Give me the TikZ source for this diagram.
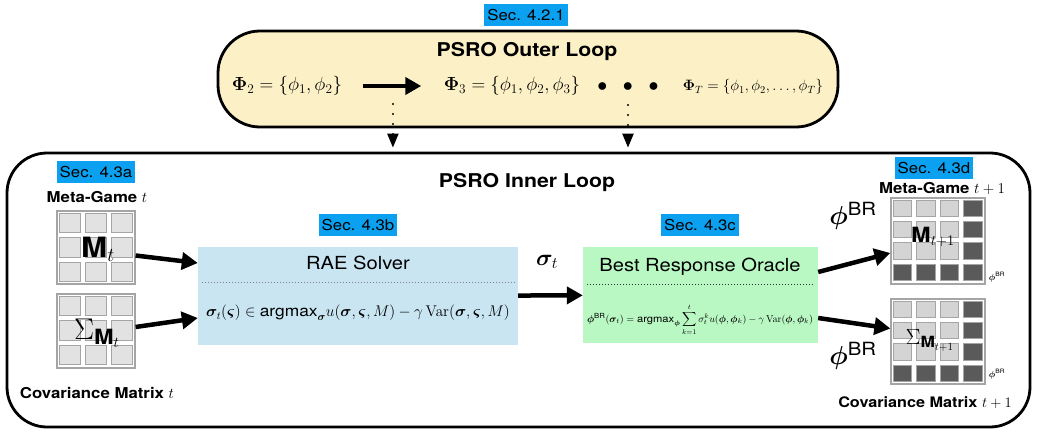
\RequirePackage{fix-cm}
\documentclass[tikz,border=0pt]{standalone}
\usepackage{amsmath}
\usepackage{bm}
\usepackage[no-math]{fontspec}
\setsansfont{TeX Gyre Heros}[FakeStretch=1.12]
\usetikzlibrary{positioning,arrows.meta,calc}

\definecolor{secblue}{HTML}{0BA0F0}
\definecolor{outeryellow}{HTML}{FCF1C6}
\definecolor{raeblue}{HTML}{C9E5F1}
\definecolor{brgreen}{HTML}{B9F8C3}
\definecolor{celllight}{HTML}{E2E2E2}
\definecolor{cellgray}{HTML}{D4D4D4}
\definecolor{celldark}{HTML}{5A5A5A}
\definecolor{cellline}{HTML}{A5A5A5}

\newcommand{\fsz}[1]{\fontsize{#1}{#1}\selectfont}

\begin{document}
\begin{tikzpicture}[x=1pt,y=-1pt,
    loopbox/.style={draw,line width=2.8pt,rounded corners=42pt},
    secbox/.style={fill=secblue,inner xsep=3pt,inner ysep=0pt,minimum height=22pt,font=\sffamily\fsz{15}},
    title/.style={font=\sffamily\bfseries\fsz{19}},
    caption/.style={font=\sffamily\bfseries\fsz{15}},
    mat/.style={draw=cellline,line width=1.2pt,fill=white,inner sep=0pt},
    cell/.style={draw=cellline,line width=0.8pt},
    bigarrow/.style={line width=4.5pt,-{Triangle[length=16pt,width=17pt]}},
    dotarrow/.style={line width=2.2pt,dash pattern=on 0pt off 10pt,line cap=round,shorten >=4pt,-{Triangle[length=14pt,width=11pt]}},
  ]
  \useasboundingbox (0,0) rectangle (1037,434);

  % outer loop
  \node[secbox] (secO) at (526,15) {Sec. 4.2.1};
  \node[loopbox,fill=outeryellow,minimum width=620pt,minimum height=96pt] (outer) at (528,79) {};
  \node[title] (outertitle) at (527,52) {PSRO Outer Loop};
  \node[font=\fsz{19}] (phi2) at (287,86) {$\mathbf{\Phi}_2=\{\phi_1,\phi_2\}$};
  \node[font=\fsz{19}] (phi3) at (512,86) {$\mathbf{\Phi}_3=\{\phi_1,\phi_2,\phi_3\}$};
  \node[font=\fsz{20}] (dots) at (628,87) {$\bullet\;\;\bullet\;\;\bullet$};
  \node[font=\fsz{15}] (phiT) at (753,87) {$\mathbf{\Phi}_T=\{\phi_1,\phi_2,\ldots,\phi_T\}$};
  \draw[bigarrow,shorten <=17pt,shorten >=19pt] (phi2) -- (phi3);
  \coordinate (split) at ($(phi2.east)!0.5!(phi3.west)$);

  % inner loop
  \node[loopbox,rounded corners=40pt,minimum width=1023pt,minimum height=274pt] (inner) at (518.5,290) {};
  \node[title] (innertitle) at (527,183) {PSRO Inner Loop};
  \draw[dotarrow] ([yshift=-18pt]split) -- (split |- inner.north);
  \draw[dotarrow] ([yshift=-18pt]dots.center) -- (dots.center |- inner.north);

  % meta-game t
  \node[secbox] (secA) at (96,172) {Sec. 4.3a};
  \node[caption] (mgA) at (97,197) {Meta-Game $t$};
  \node[mat,minimum width=78pt,minimum height=73pt] (Mt) at (96,247.5) {};
  \node[mat,minimum width=78pt,minimum height=74pt] (St) at (96,331) {};
  \foreach \m in {Mt,St}
    \foreach \i in {0,1,2}
      \foreach \j in {0,1,2}
        \filldraw[cell,fill=celllight] ($(\m.north west)+(\i*26+2.5,\j*24.5+2.5)$) rectangle +(21,19.5);
  \node[font=\fsz{28}] (Mtlab) at (98,249) {$\textsf{\bfseries M}_t$};
  \node[font=\fsz{30}] (Stlab) at (97,333) {$\Sigma_{\textsf{\bfseries M}_t}$};
  \node[caption] (cmA) at (97,393) {Covariance Matrix $t$};

  % RAE solver
  \node[secbox] (secB) at (358,225) {Sec. 4.3b};
  \node[fill=raeblue,minimum width=320pt,minimum height=98pt] (rae) at (358,296) {};
  \node[font=\sffamily\fsz{18}] (raetitle) at (358,263) {RAE Solver};
  \draw[gray,dotted,line width=1pt] ($(rae.west)+(4,-14)$) -- ($(rae.east)+(-4,-14)$);
  \node[font=\fsz{15.5}] (raeform) at (358,313)
    {$\bm\sigma_t(\bm\varsigma)\in\textsf{argmax}_{\bm\sigma}u(\bm\sigma,\bm\varsigma,M)-\gamma\,\mathrm{Var}(\bm\sigma,\bm\varsigma,M)$};

  % best response oracle
  \node[secbox] (secC) at (700,225) {Sec. 4.3c};
  \node[fill=brgreen,minimum width=235pt,minimum height=96pt] (br) at (700.5,295) {};
  \node[font=\sffamily\fsz{18}] (brtitle) at (700,267) {Best Response Oracle};
  \draw[black!80,dotted,line width=1pt] ($(br.west)+(4,-11)$) -- ($(br.east)+(-4,-11)$);
  \node[font=\fsz{10}] (brform) at (700,320)
    {$\bm\phi^{\textsf{BR}}(\bm\sigma_t)=\textsf{argmax}_{\bm\phi}\displaystyle\sum_{k=1}^{t}\sigma_t^k u(\bm\phi,\bm\phi_k)-\gamma\,\mathrm{Var}(\bm\phi,\bm\phi_k)$};

  \node[font=\fsz{23}] (sigt) at (547,262) {$\bm\sigma_t$};
  \draw[bigarrow] (rae) -- (br);

  % meta-game t+1
  \node[secbox] (secD) at (934,168) {Sec. 4.3d};
  \node[caption] (mgD) at (942,189) {Meta-Game $t+1$};
  \node[mat,minimum width=94pt,minimum height=86pt] (Mn) at (938,241) {};
  \node[mat,minimum width=94pt,minimum height=85pt] (Sn) at (938,341.5) {};
  \foreach \m in {Mn,Sn}
    \foreach \i in {0,...,3}
      \foreach \j in {0,...,3}{
        \ifnum\i=3 \def\shade{celldark}\else\ifnum\j=3 \def\shade{celldark}\else\def\shade{cellgray}\fi\fi
        \filldraw[cell,fill=\shade] ($(\m.north west)+(\i*23.5+2.5,\j*21.4+2.5)$) rectangle +(18.5,16.5);
      }
  \node[font=\fsz{21}] (Mnlab) at (933,237) {$\textsf{\bfseries M}_{t+1}$};
  \node[font=\fsz{22}] (Snlab) at (930,340) {$\Sigma_{\textsf{\bfseries M}_{t+1}}$};
  \node[font=\fsz{9}] (brA) at (997,277) {$\bm\phi^{\textsf{BR}}$};
  \node[font=\fsz{9}] (brB) at (997,374) {$\bm\phi^{\textsf{BR}}$};
  \node[font=\fsz{26}] (phiA) at (853,216) {$\bm\phi^{\textsf{BR}}$};
  \node[font=\fsz{26}] (phiB) at (853,356) {$\bm\phi^{\textsf{BR}}$};
  \node[caption,font=\sffamily\bfseries\fsz{14.5}] (cmD) at (925,403) {Covariance Matrix $t+1$};

  % arrows
  \draw[bigarrow] ([yshift=-8pt]Mt.east) -- ([yshift=33pt]rae.west);
  \draw[bigarrow] ([yshift=4pt]St.east) -- ([yshift=-22pt]rae.west);
  \draw[bigarrow] ([yshift=23pt]br.east) -- ([yshift=-12pt]Mn.west);
  \draw[bigarrow] ([yshift=-23pt]br.east) -- ([yshift=13pt]Sn.west);
\end{tikzpicture}
\end{document}
